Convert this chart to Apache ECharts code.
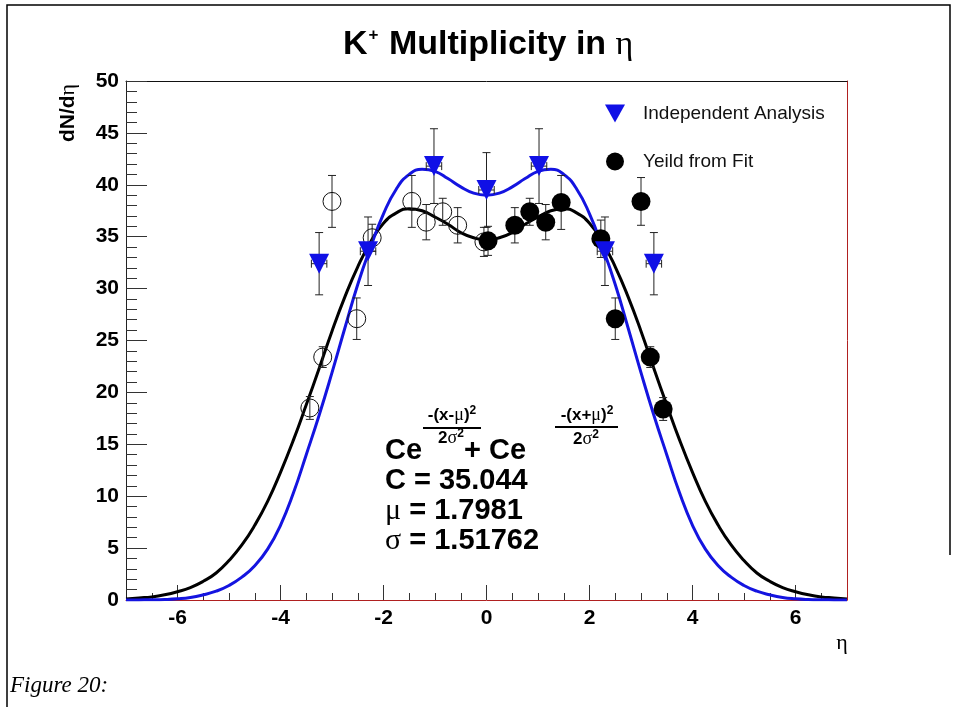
<!DOCTYPE html>
<html>
<head>
<meta charset="utf-8">
<title>K+ Multiplicity in eta</title>
<script src="https://cdn.jsdelivr.net/npm/echarts@6.0.0/dist/echarts.min.js"></script>
<style>
  html, body { margin: 0; padding: 0; background: #fff; }
  #chart { width: 959px; height: 707px; }
</style>
</head>
<body>
<div id="chart"></div>
<script>
const etaGrid = [-7, -6.75, -6.5, -6.25, -6, -5.75, -5.5, -5.25, -5, -4.75, -4.5, -4.25, -4, -3.75, -3.5, -3.25,
  -3, -2.75, -2.5, -2.25, -2, -1.75, -1.5, -1.25, -1, -0.75, -0.5, -0.25, 0, 0.25, 0.5, 0.75, 1, 1.25, 1.5, 1.75,
  2, 2.25, 2.5, 2.75, 3, 3.25, 3.5, 3.75, 4, 4.25, 4.5, 4.75, 5, 5.25, 5.5, 5.75, 6, 6.25, 6.5, 6.75, 7];

// black double gaussian fit
const fitBlack = [0.1, 0.2, 0.3, 0.5, 0.8, 1.2, 1.8, 2.6, 3.8, 5.3, 7.2, 9.5, 12.3, 15.4, 18.8, 22.3,
  25.9, 29.2, 32.1, 34.5, 36.3, 37.3, 37.7, 37.5, 36.9, 36.2, 35.4, 34.9, 34.7, 34.9, 35.4, 36.2, 36.9, 37.5, 37.7, 37.3,
  36.3, 34.5, 32.1, 29.2, 25.9, 22.3, 18.8, 15.4, 12.3, 9.5, 7.2, 5.3, 3.8, 2.6, 1.8, 1.2, 0.8, 0.5, 0.3, 0.2, 0.1];

// blue curve (independent analysis)
const fitBlue = [0, 0.01, 0.02, 0.05, 0.12, 0.25, 0.5, 0.85, 1.4, 2.2, 3.3, 4.9, 7.2, 10.3, 14.0, 17.8,
  21.9, 26.2, 30.4, 34.0, 37.2, 39.6, 41.0, 41.5, 41.3, 40.6, 39.8, 39.2, 39.0, 39.2, 39.8, 40.6, 41.3, 41.5, 41.0, 39.6,
  37.2, 34.0, 30.4, 26.2, 21.9, 17.8, 14.0, 10.3, 7.2, 4.9, 3.3, 2.2, 1.4, 0.85, 0.5, 0.25, 0.12, 0.05, 0.02, 0.01, 0];

// Independent Analysis (blue triangles)
const triEta = [-3.25, -2.3, -1.02, 0, 1.02, 2.3, 3.25];
const triVal = [32.4, 33.6, 41.8, 39.5, 41.8, 33.6, 32.4];
const triErrY = [3.0, 3.3, 3.6, 3.6, 3.6, 3.3, 3.0];
const triErrX = [0.15, 0.15, 0.15, 0.15, 0.15, 0.15, 0.15];

// Yeild from Fit (filled, eta > 0)
const fillEta = [0.03, 0.55, 0.84, 1.15, 1.45, 2.22, 2.5, 3.0, 3.18, 3.43];
const fillVal = [34.6, 36.1, 37.4, 36.4, 38.3, 34.8, 27.1, 38.4, 23.4, 18.4];
const fillErr = [1.4, 1.7, 1.3, 1.7, 2.6, 1.8, 2.0, 2.3, 1.0, 1.1];

// reflected points (open circles, eta < 0)
const openEta = [-3.43, -3.18, -3.0, -2.52, -2.22, -1.45, -1.17, -0.85, -0.56, -0.05];
const openVal = [18.5, 23.4, 38.4, 27.1, 34.9, 38.4, 36.4, 37.4, 36.1, 34.5];
const openErr = [1.1, 1.0, 2.5, 2.0, 1.3, 2.5, 1.7, 1.3, 1.7, 1.4];

// axis ticks
const xLabels = [-6, -4, -2, 0, 2, 4, 6];
const xMinorTicks = [-6.5, -6, -5.5, -5, -4.5, -4, -3.5, -3, -2.5, -2, -1.5, -1, -0.5, 0, 0.5, 1, 1.5, 2,
  2.5, 3, 3.5, 4, 4.5, 5, 5.5, 6, 6.5];

const sans = '"Liberation Sans", Arial, sans-serif';
const serif = '"Liberation Serif", "Times New Roman", serif';

const pairs = (xs, ys) => xs.map((x, i) => [x, ys[i]]);

// error bars drawn with the axis scales
function errorBars(params, api) {
  const x = api.value(0), y = api.value(1), ey = api.value(2), ex = api.value(3);
  const st = { stroke: '#222', lineWidth: 1 };
  const cap = 4;
  const top = api.coord([x, y + ey]);
  const bot = api.coord([x, y - ey]);
  const kids = [
    { type: 'line', shape: { x1: top[0], y1: top[1], x2: bot[0], y2: bot[1] }, style: st },
    { type: 'line', shape: { x1: top[0] - cap, y1: top[1], x2: top[0] + cap, y2: top[1] }, style: st },
    { type: 'line', shape: { x1: bot[0] - cap, y1: bot[1], x2: bot[0] + cap, y2: bot[1] }, style: st }
  ];
  if (ex > 0) {
    const l = api.coord([x - ex, y]);
    const r = api.coord([x + ex, y]);
    kids.push(
      { type: 'line', shape: { x1: l[0], y1: l[1], x2: r[0], y2: r[1] }, style: st },
      { type: 'line', shape: { x1: l[0], y1: l[1] - cap, x2: l[0], y2: l[1] + cap }, style: st },
      { type: 'line', shape: { x1: r[0], y1: r[1] - cap, x2: r[0], y2: r[1] + cap }, style: st }
    );
  }
  return { type: 'group', children: kids };
}

const errRows = [].concat(
  triEta.map((x, i) => [x, triVal[i], triErrY[i], triErrX[i]]),
  fillEta.map((x, i) => [x, fillVal[i], fillErr[i], 0]),
  openEta.map((x, i) => [x, openVal[i], openErr[i], 0])
);

// small fraction pieces of the formula (exponent numerator / denominator)
const fracRich = {
  n: { fontFamily: sans, fontWeight: 'bold', fontSize: 17, fill: '#000', lineHeight: 20 },
  g: { fontFamily: serif, fontSize: 18, fill: '#000', lineHeight: 20 },
  s: { fontFamily: sans, fontWeight: 'bold', fontSize: 12, fill: '#000', verticalAlign: 'top', lineHeight: 20 }
};
const fracText = (x, y, text) => ({
  type: 'text', x: x, y: y, silent: true,
  style: { text: text, align: 'center', verticalAlign: 'middle', rich: fracRich }
});
const bigRich = {
  g: { fontFamily: serif, fontSize: 30, fill: '#000' },
  b: { fontFamily: sans, fontWeight: 'bold', fontSize: 29, fill: '#000' }
};
const bigText = (x, y, text) => ({
  type: 'text', x: x, y: y, silent: true,
  style: { text: text, verticalAlign: 'middle', rich: bigRich }
});

const chart = echarts.init(document.getElementById('chart'));

const option = {
  animation: false,
  backgroundColor: '#fff',
  title: {
    text: '{k|K}{sup|+}{k| Multiplicity in }{eta|η}',
    left: 338,
    top: 20,
    textStyle: {
      rich: {
        k: { fontFamily: sans, fontWeight: 'bold', fontSize: 34, color: '#000', lineHeight: 40 },
        sup: { fontFamily: sans, fontWeight: 'bold', fontSize: 17, color: '#000', verticalAlign: 'top', padding: [2, 1, 0, 1] },
        eta: { fontFamily: serif, fontWeight: 'normal', fontSize: 34, color: '#000', lineHeight: 40 }
      }
    }
  },
  legend: {
    data: [
      { name: 'Independent Analysis', icon: 'path://M0,0L20,0L10,18Z' },
      { name: 'Yeild from Fit', icon: 'circle' }
    ],
    orient: 'vertical',
    left: 600,
    top: 99,
    itemWidth: 20,
    itemHeight: 18,
    itemGap: 29,
    selectedMode: false,
    textStyle: { fontFamily: sans, fontSize: 19, color: '#111', padding: [0, 0, 0, 13] }
  },
  grid: { left: 126, right: 112, top: 81, bottom: 107 },
  xAxis: [
    {
      type: 'value', min: -7, max: 7, position: 'bottom',
      axisLine: { show: true, onZero: false, lineStyle: { color: '#b02020', width: 1 } },
      axisTick: { show: true, inside: true, length: 15, customValues: xLabels, lineStyle: { color: '#333' } },
      axisLabel: {
        customValues: xLabels, margin: 8, color: '#000',
        fontFamily: sans, fontWeight: 'bold', fontSize: 21
      },
      splitLine: { show: false }
    },
    {
      type: 'value', min: -7, max: 7, position: 'bottom',
      axisLine: { show: false },
      axisTick: { show: true, inside: true, length: 7, customValues: xMinorTicks, lineStyle: { color: '#333' } },
      axisLabel: { show: false },
      splitLine: { show: false }
    },
    {
      type: 'value', min: -7, max: 7, position: 'top',
      axisLine: { show: true, onZero: false, lineStyle: { color: '#111', width: 1 } },
      axisTick: { show: false },
      axisLabel: { show: false },
      splitLine: { show: false }
    }
  ],
  yAxis: [
    {
      type: 'value', min: 0, max: 50, interval: 5,
      axisLine: { show: true, onZero: false, lineStyle: { color: '#222', width: 1 } },
      axisTick: { show: true, inside: true, length: 21, lineStyle: { color: '#333' } },
      minorTick: { show: true, splitNumber: 5, length: 11, lineStyle: { color: '#333' } },
      axisLabel: { margin: 7, color: '#000', fontFamily: sans, fontWeight: 'bold', fontSize: 21 },
      splitLine: { show: false }
    },
    {
      type: 'value', min: 0, max: 50, position: 'right',
      axisLine: { show: true, onZero: false, lineStyle: { color: '#b02020', width: 1 } },
      axisTick: { show: false },
      axisLabel: { show: false },
      splitLine: { show: false }
    }
  ],
  series: [
    {
      name: 'black fit', type: 'line', data: pairs(etaGrid, fitBlack),
      showSymbol: false, smooth: true, silent: true, z: 2,
      lineStyle: { color: '#000', width: 3 }
    },
    {
      name: 'blue fit', type: 'line', data: pairs(etaGrid, fitBlue),
      showSymbol: false, smooth: true, silent: true, z: 2,
      lineStyle: { color: '#1414e0', width: 3 }
    },
    {
      name: 'errors', type: 'custom', renderItem: errorBars, data: errRows,
      encode: { x: 0, y: 1 }, silent: true, z: 3
    },
    {
      name: 'reflected', type: 'scatter', data: pairs(openEta, openVal),
      symbol: 'circle', symbolSize: 18, silent: true, z: 4,
      itemStyle: { color: 'rgba(0,0,0,0)', borderColor: '#111', borderWidth: 1, opacity: 1 }
    },
    {
      name: 'Yeild from Fit', type: 'scatter', data: pairs(fillEta, fillVal),
      symbol: 'circle', symbolSize: 19, silent: true, z: 4,
      itemStyle: { color: '#000', opacity: 1 }
    },
    {
      name: 'Independent Analysis', type: 'scatter', data: pairs(triEta, triVal),
      symbol: 'triangle', symbolRotate: 180, symbolSize: 20, silent: true, z: 5,
      itemStyle: { color: '#1010e6', opacity: 1 }
    }
  ],
  graphic: [
    // page frame
    {
      type: 'polyline', silent: true,
      shape: { points: [[950, 555], [950, 5], [7, 5], [7, 707]] },
      style: { stroke: '#000', lineWidth: 1.5, fill: null }
    },
    // y axis title
    {
      type: 'text', x: 68, y: 113, rotation: Math.PI / 2, silent: true,
      style: {
        text: '{b|dN/d}{g|η}', align: 'center', verticalAlign: 'middle',
        rich: {
          b: { fontFamily: sans, fontWeight: 'bold', fontSize: 21, fill: '#000' },
          g: { fontFamily: serif, fontSize: 22, fill: '#000' }
        }
      }
    },
    // x axis title
    {
      type: 'text', x: 842, y: 643, silent: true,
      style: { text: 'η', font: '22px ' + serif, fill: '#000', align: 'center', verticalAlign: 'middle' }
    },
    // fit formula
    bigText(385, 451, '{b|Ce}'),
    fracText(452, 415, '{n|-(x-}{g|μ}{n|)}{s|2}'),
    { type: 'line', silent: true, shape: { x1: 423, y1: 428, x2: 481, y2: 428 }, style: { stroke: '#000', lineWidth: 2 } },
    fracText(451, 438, '{n|2}{g|σ}{s|2}'),
    bigText(464, 451, '{b|+ Ce}'),
    fracText(587, 415, '{n|-(x+}{g|μ}{n|)}{s|2}'),
    { type: 'line', silent: true, shape: { x1: 555, y1: 427, x2: 618, y2: 427 }, style: { stroke: '#000', lineWidth: 2 } },
    fracText(586, 439, '{n|2}{g|σ}{s|2}'),
    bigText(385, 481, '{b|C = 35.044}'),
    bigText(385, 511, '{g|μ}{b| = 1.7981}'),
    bigText(385, 541, '{g|σ}{b| = 1.51762}'),
    // caption
    {
      type: 'text', x: 10, y: 686, silent: true,
      style: { text: 'Figure 20:', font: 'italic 23px ' + serif, fill: '#000', verticalAlign: 'middle' }
    }
  ]
};

chart.setOption(option);
</script>
</body>
</html>
